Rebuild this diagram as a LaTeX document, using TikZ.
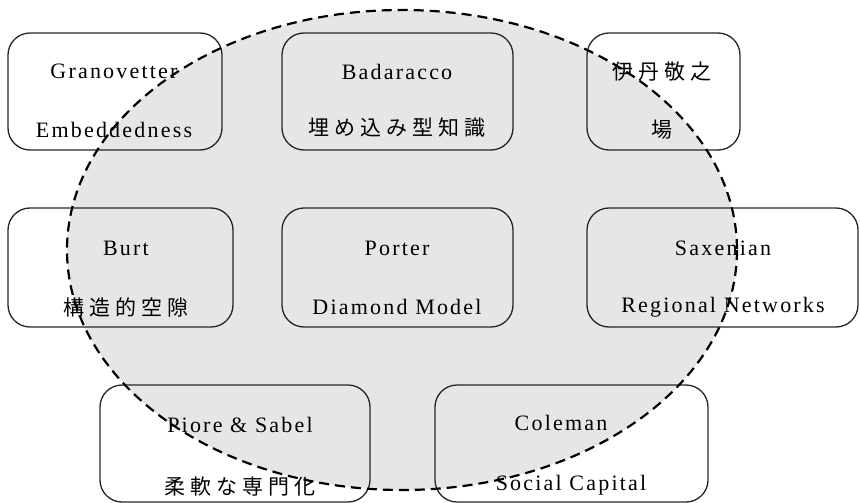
\documentclass[tikz,border=0pt]{standalone}
\usepackage{fontspec}
\setmainfont{Liberation Serif}
\newfontfamily\lat{Liberation Serif}[LetterSpace=10]
\newfontfamily\cjk{Noto Sans CJK JP}[LetterSpace=24]
\definecolor{ellfill}{RGB}{229,230,232}
\tikzset{
  card/.style={draw=black!85, line width=1.3pt, rounded corners=22pt, inner sep=0pt},
  lt/.style={inner sep=0pt, font=\fontsize{22}{26}\selectfont\lat},
  jt/.style={inner sep=0pt, font=\fontsize{21}{26}\selectfont\cjk},
  ell/.style={draw=black, line width=2.2pt, dash pattern=on 10pt off 6pt}
}
\begin{document}
\begin{tikzpicture}[x=1pt,y=-1pt]
\useasboundingbox (0,0) rectangle (860,503);
% ellipse fill
\fill[ellfill] (402,250) ellipse [x radius=335, y radius=240];
% boxes
\draw[card] (8,33) rectangle (222,150) node[pos=0.5] (b1) {};
\draw[card] (282,33) rectangle (513,150) node[pos=0.5] (b2) {};
\draw[card] (587,33) rectangle (740,150) node[pos=0.5] (b3) {};
\draw[card] (8,208) rectangle (233,327) node[pos=0.5] (b4) {};
\draw[card] (282,208) rectangle (513,327) node[pos=0.5] (b5) {};
\draw[card] (587,208) rectangle (858,327) node[pos=0.5] (b6) {};
\draw[card] (100,385) rectangle (370,502) node[pos=0.5] (b7) {};
\draw[card] (435,385) rectangle (708,502) node[pos=0.5] (b8) {};
% ellipse outline
\draw[ell] (402,250) ellipse [x radius=335, y radius=240];
% texts
\node[lt] (t1a) at (114,71) {Granovetter};
\node[lt] (t1b) at (114,130) {Embeddedness};
\node[lt] (t2a) at (397,72) {Badaracco};
\node[jt] (t2b) at (397,128) {埋め込み型知識};
\node[jt] (t3a) at (662,72) {伊丹敬之};
\node[jt] (t3b) at (662,130) {場};
\node[lt] (t4a) at (126,248) {Burt};
\node[jt] (t4b) at (126,307) {構造的空隙};
\node[lt] (t5a) at (397,248) {Porter};
\node[lt] (t5b) at (397,307) {Diamond Model};
\node[lt] (t6a) at (723,248) {Saxenian};
\node[lt] (t6b) at (723,307) {Regional Networks};
\node[lt] (t7a) at (240,425) {Piore \& Sabel};
\node[jt] (t7b) at (240,487) {柔軟な専門化};
\node[lt] (t8a) at (561,423) {Coleman};
\node[lt] (t8b) at (571,485) {Social Capital};
\end{tikzpicture}
\end{document}
